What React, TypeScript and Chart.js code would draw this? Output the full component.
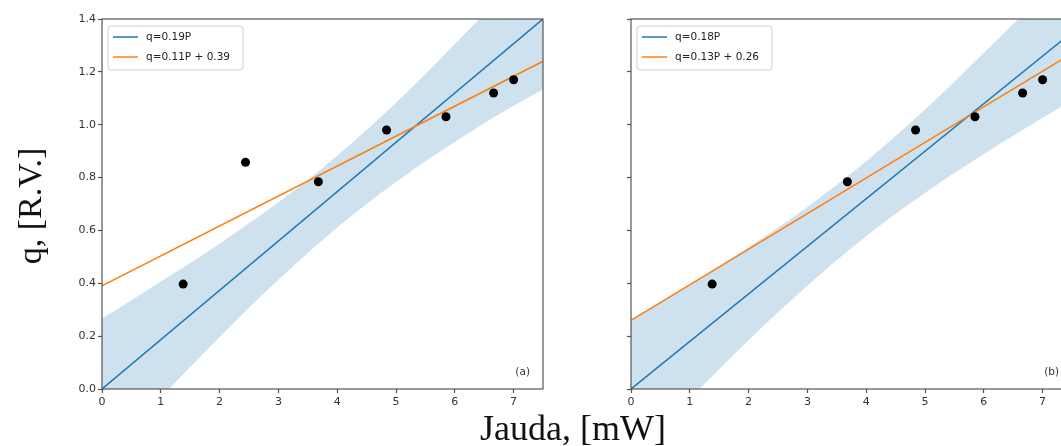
import React, { useEffect, useRef } from 'react';
import { Chart, registerables } from 'chart.js';

Chart.register(...registerables);

// ---- data ----
const xTicks = [0, 1, 2, 3, 4, 5, 6, 7];
const xTickLabels = ['0', '1', '2', '3', '4', '5', '6', '7'];
const yTicks = [0, 0.2, 0.4, 0.6, 0.8, 1.0, 1.2, 1.4];
const yTickLabels = ['0.0', '0.2', '0.4', '0.6', '0.8', '1.0', '1.2', '1.4'];

// measured points, panel (a)
const pointsAX = [1.38, 2.44, 3.68, 4.84, 5.85, 6.66, 7.0];
const pointsAY = [0.397, 0.858, 0.784, 0.98, 1.03, 1.12, 1.17];
// measured points, panel (b)
const pointsBX = [1.38, 3.68, 4.84, 5.85, 6.66, 7.0];
const pointsBY = [0.397, 0.784, 0.98, 1.03, 1.12, 1.17];

// fitted lines (values at x = 0 and x = 7.5)
const fitX = [0, 7.5];
const blueA = [0, 1.4];
const orangeA = [0.39, 1.24];
const blueB = [0, 1.35];
const orangeB = [0.26, 1.27];

// confidence band
const bandX = [0, 0.5, 1, 1.5, 2, 2.5, 3, 3.5, 4, 4.5, 5, 5.5, 6, 6.5, 7, 7.5];
const upperA = [0.267, 0.336, 0.407, 0.477, 0.55, 0.627, 0.707, 0.791, 0.883, 0.98, 1.083, 1.192, 1.305, 1.42, 1.542, 1.667];
const lowerA = [-0.267, -0.15, -0.033, 0.083, 0.196, 0.307, 0.413, 0.515, 0.611, 0.7, 0.783, 0.862, 0.935, 1.006, 1.072, 1.133];
const upperB = [0.263, 0.329, 0.396, 0.465, 0.536, 0.611, 0.689, 0.773, 0.862, 0.957, 1.058, 1.163, 1.271, 1.382, 1.494, 1.608];
const lowerB = [-0.263, -0.149, -0.036, 0.075, 0.184, 0.29, 0.391, 0.488, 0.578, 0.663, 0.742, 0.817, 0.889, 0.958, 1.026, 1.092];

const legendA = ['q=0.19P', 'q=0.11P + 0.39'];
const legendB = ['q=0.18P', 'q=0.13P + 0.26'];

const BLUE = '#1f77b4';
const ORANGE = '#ff7f0e';
const BAND = 'rgba(31,119,180,0.22)';
const SPINE = '#555';

const zip = (xs: number[], ys: number[]) => xs.map((x, i) => ({ x, y: ys[i] }));

interface PanelProps {
  left: number;
  width: number;
  yAxisWidth: number;
  padRight: number;
  showYLabels: boolean;
  px: number[];
  py: number[];
  blue: number[];
  orange: number[];
  upper: number[];
  lower: number[];
  legend: string[];
  tag: string;
}

function Panel(p: PanelProps) {
  const ref = useRef<HTMLCanvasElement>(null);
  useEffect(() => {
    const decor = {
      id: 'decor',
      afterDraw(chart: any) {
        const { ctx, chartArea } = chart;
        const { left, top, right, bottom } = chartArea;
        ctx.save();
        ctx.strokeStyle = SPINE;
        ctx.lineWidth = 1.2;
        ctx.strokeRect(left, top, right - left, bottom - top);
        // legend
        const bx = left + 6, by = top + 7, bw = 135, bh = 44;
        ctx.beginPath();
        (ctx as any).roundRect(bx, by, bw, bh, 3);
        ctx.fillStyle = 'rgba(255,255,255,0.85)';
        ctx.fill();
        ctx.strokeStyle = '#d0d0d0';
        ctx.lineWidth = 1;
        ctx.stroke();
        const cols = [BLUE, ORANGE];
        ctx.font = '10.5px "DejaVu Sans"';
        ctx.textBaseline = 'middle';
        ctx.textAlign = 'left';
        p.legend.forEach((t, i) => {
          const y = by + 11 + i * 20;
          ctx.strokeStyle = cols[i];
          ctx.lineWidth = 1.5;
          ctx.beginPath();
          ctx.moveTo(bx + 5, y);
          ctx.lineTo(bx + 30, y);
          ctx.stroke();
          ctx.fillStyle = '#222';
          ctx.fillText(t, bx + 38, y);
        });
        ctx.font = '10.5px "DejaVu Sans"';
        ctx.textAlign = 'right';
        ctx.fillStyle = '#333';
        ctx.fillText(p.tag, right - 13, bottom - 17);
        ctx.restore();
      },
    };

    const chart = new Chart(ref.current!, {
      type: 'scatter',
      data: {
        datasets: [
          {
            data: zip(bandX, p.lower),
            showLine: true,
            borderWidth: 0,
            borderColor: 'rgba(0,0,0,0)',
            pointRadius: 0,
            cubicInterpolationMode: 'monotone',
            fill: false,
            order: 4,
          },
          {
            data: zip(bandX, p.upper),
            showLine: true,
            borderWidth: 0,
            borderColor: 'rgba(0,0,0,0)',
            pointRadius: 0,
            cubicInterpolationMode: 'monotone',
            backgroundColor: BAND,
            fill: '-1',
            order: 3,
          },
          {
            data: zip(fitX, p.blue),
            showLine: true,
            borderColor: BLUE,
            borderWidth: 1.5,
            pointRadius: 0,
            fill: false,
            order: 2,
          },
          {
            data: zip(fitX, p.orange),
            showLine: true,
            borderColor: ORANGE,
            borderWidth: 1.5,
            pointRadius: 0,
            fill: false,
            order: 1,
          },
          {
            data: zip(p.px, p.py),
            pointRadius: 4.5,
            pointBackgroundColor: '#000',
            pointBorderColor: '#000',
            pointBorderWidth: 0,
            order: 0,
          },
        ] as any,
      },
      options: {
        animation: false,
        responsive: false,
        devicePixelRatio: 1,
        layout: { padding: { left: 0, top: 19, right: p.padRight, bottom: 0 } },
        plugins: { legend: { display: false }, tooltip: { enabled: false } },
        scales: {
          x: {
            type: 'linear',
            min: 0,
            max: 7.5,
            afterBuildTicks: (s: any) => {
              s.ticks = xTicks.map((v) => ({ value: v }));
            },
            afterFit: (s: any) => {
              s.height = 57;
            },
            ticks: {
              callback: (_v: any, i: number) => xTickLabels[i],
              font: { family: 'DejaVu Sans', size: 11 },
              color: '#333',
              padding: 3,
              maxRotation: 0,
            },
            grid: { display: true, drawOnChartArea: false, drawTicks: true, tickLength: 4, tickColor: SPINE, tickWidth: 1.2 },
            border: { display: false },
          },
          y: {
            type: 'linear',
            min: 0,
            max: 1.4,
            afterBuildTicks: (s: any) => {
              s.ticks = yTicks.map((v) => ({ value: v }));
            },
            afterFit: (s: any) => {
              s.width = p.yAxisWidth;
            },
            ticks: {
              callback: (_v: any, i: number) => (p.showYLabels ? yTickLabels[i] : ''),
              font: { family: 'DejaVu Sans', size: 11 },
              color: '#333',
              padding: 2,
            },
            grid: { display: true, drawOnChartArea: false, drawTicks: true, tickLength: 4, tickColor: SPINE, tickWidth: 1.2 },
            border: { display: false },
          },
        },
      } as any,
      plugins: [decor],
    });
    return () => chart.destroy();
  }, []);
  return (
    <canvas
      ref={ref}
      width={p.width}
      height={446}
      style={{ position: 'absolute', left: p.left, top: 0, width: p.width, height: 446 }}
    />
  );
}

export default function App() {
  return (
    <div
      style={{
        position: 'absolute',
        left: 0,
        top: 0,
        width: 1061,
        height: 446,
        overflow: 'hidden',
        background: '#fff',
      }}
    >
      <Panel
        left={0}
        width={560}
        yAxisWidth={102}
        padRight={17}
        showYLabels={true}
        px={pointsAX}
        py={pointsAY}
        blue={blueA}
        orange={orangeA}
        upper={upperA}
        lower={lowerA}
        legend={legendA}
        tag="(a)"
      />
      <Panel
        left={560}
        width={530}
        yAxisWidth={71}
        padRight={18}
        showYLabels={false}
        px={pointsBX}
        py={pointsBY}
        blue={blueB}
        orange={orangeB}
        upper={upperB}
        lower={lowerB}
        legend={legendB}
        tag="(b)"
      />
      <div
        style={{
          position: 'absolute',
          left: 473,
          top: 410,
          width: 200,
          textAlign: 'center',
          fontFamily: '"Liberation Serif", serif',
          fontSize: 36,
          lineHeight: '36px',
          color: '#111',
          whiteSpace: 'nowrap',
        }}
      >
        Jauda, [mW]
      </div>
      <div
        style={{
          position: 'absolute',
          left: 30 - 100,
          top: 206 - 20,
          width: 200,
          height: 40,
          lineHeight: '40px',
          textAlign: 'center',
          fontFamily: '"Liberation Serif", serif',
          fontSize: 34,
          color: '#111',
          whiteSpace: 'nowrap',
          transform: 'rotate(-90deg)',
          transformOrigin: 'center',
        }}
      >
        q, [R.V.]
      </div>
    </div>
  );
}
